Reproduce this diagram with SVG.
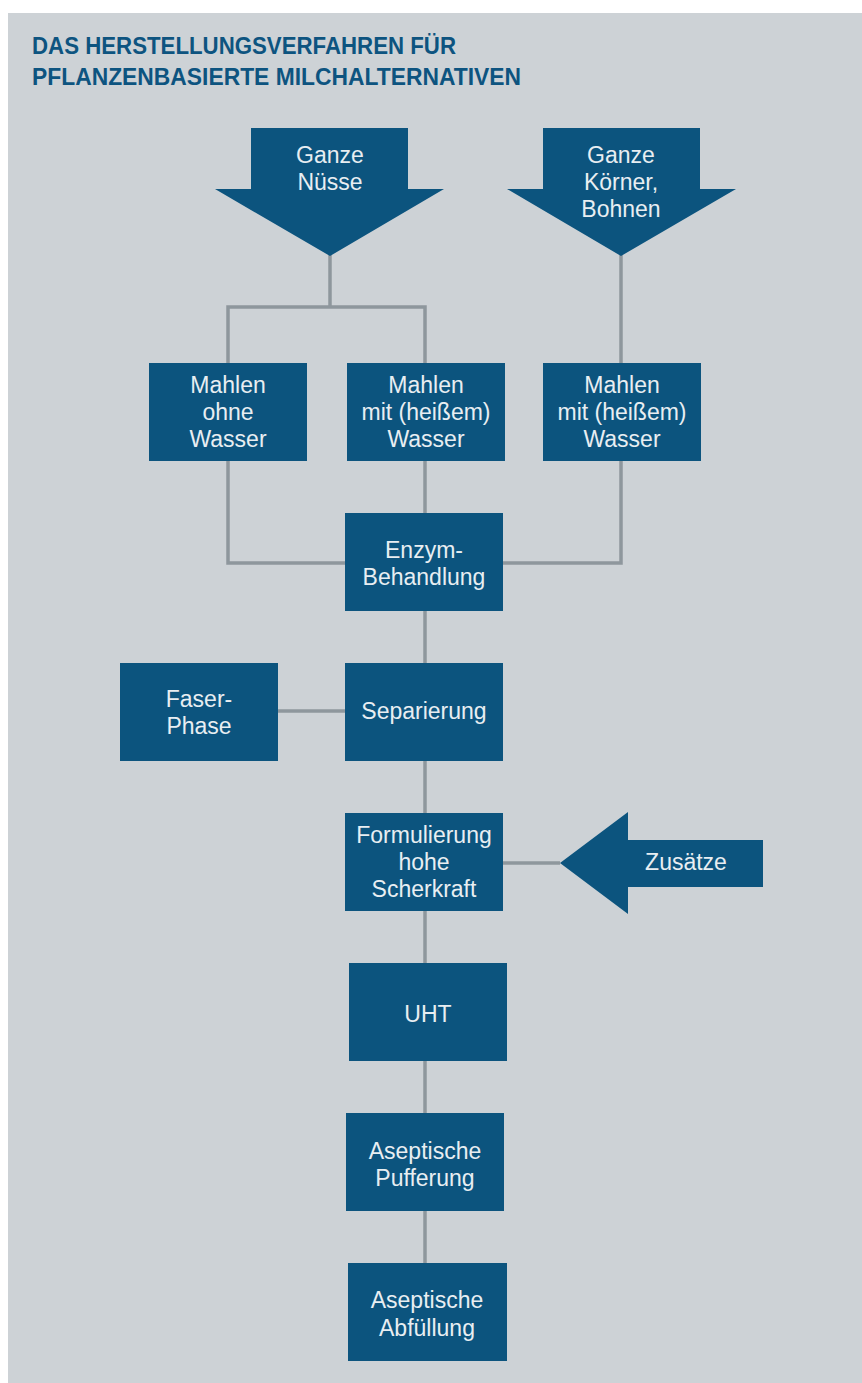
<svg xmlns="http://www.w3.org/2000/svg" width="862" height="1383" viewBox="0 0 862 1383">
<style>
.bg{fill:#ffffff}
.panel{fill:#cdd2d6}
.box{fill:#0c547e}
.t{font-family:"Liberation Sans",Arial,sans-serif;font-size:23px;fill:#e8eef2;text-anchor:middle}
.title{font-family:"Liberation Sans",Arial,sans-serif;font-weight:bold;font-size:23.5px;fill:#0d5480}
.conn{fill:none;stroke:#8e979d;stroke-width:3.5}
</style>
<rect class="bg" x="0" y="0" width="862" height="1383"/>
<rect class="panel" x="8" y="13" width="854" height="1370"/>
<g id="title">
<text class="title" x="32" y="54" textLength="424" lengthAdjust="spacingAndGlyphs">DAS HERSTELLUNGSVERFAHREN FÜR</text>
<text class="title" x="32" y="85" textLength="489" lengthAdjust="spacingAndGlyphs">PFLANZENBASIERTE MILCHALTERNATIVEN</text>
</g>
<g id="connectors">
<polyline class="conn" points="330,255 330,307"/>
<polyline class="conn" points="228,363 228,307 425,307 425,363"/>
<polyline class="conn" points="621,255 621,363"/>
<polyline class="conn" points="228,461 228,563 345,563"/>
<polyline class="conn" points="425,461 425,513"/>
<polyline class="conn" points="621,461 621,563 503,563"/>
<polyline class="conn" points="425,611 425,663"/>
<polyline class="conn" points="278,711 345,711"/>
<polyline class="conn" points="425,761 425,813"/>
<polyline class="conn" points="503,863 560,863"/>
<polyline class="conn" points="425,911 425,963"/>
<polyline class="conn" points="425,1061 425,1113"/>
<polyline class="conn" points="425,1211 425,1263"/>
</g>
<g id="ganze-nuesse">
<polygon class="box" points="251,128 408,128 408,189 444,189 330,256 215,189 251,189"/>
<text class="t" x="330" y="163">Ganze</text>
<text class="t" x="330" y="190">Nüsse</text>
</g>
<g id="ganze-koerner">
<polygon class="box" points="543,128 700,128 700,189 736,189 621,256 507,189 543,189"/>
<text class="t" x="621" y="163">Ganze</text>
<text class="t" x="621" y="190">Körner,</text>
<text class="t" x="621" y="217">Bohnen</text>
</g>
<g id="mahlen-ohne">
<rect class="box" x="149" y="363" width="158" height="98"/>
<text class="t" x="228" y="393">Mahlen</text>
<text class="t" x="228" y="420">ohne</text>
<text class="t" x="228" y="447">Wasser</text>
</g>
<g id="mahlen-mit-1">
<rect class="box" x="347" y="363" width="158" height="98"/>
<text class="t" x="426" y="393">Mahlen</text>
<text class="t" x="426" y="420">mit (heißem)</text>
<text class="t" x="426" y="447">Wasser</text>
</g>
<g id="mahlen-mit-2">
<rect class="box" x="543" y="363" width="158" height="98"/>
<text class="t" x="622" y="393">Mahlen</text>
<text class="t" x="622" y="420">mit (heißem)</text>
<text class="t" x="622" y="447">Wasser</text>
</g>
<g id="enzym">
<rect class="box" x="345" y="513" width="158" height="98"/>
<text class="t" x="424" y="558">Enzym-</text>
<text class="t" x="424" y="585">Behandlung</text>
</g>
<g id="faser">
<rect class="box" x="120" y="663" width="158" height="98"/>
<text class="t" x="199" y="707">Faser-</text>
<text class="t" x="199" y="734">Phase</text>
</g>
<g id="separierung">
<rect class="box" x="345" y="663" width="158" height="98"/>
<text class="t" x="424" y="719">Separierung</text>
</g>
<g id="formulierung">
<rect class="box" x="345" y="813" width="158" height="98"/>
<text class="t" x="424" y="843">Formulierung</text>
<text class="t" x="424" y="870">hohe</text>
<text class="t" x="424" y="897">Scherkraft</text>
</g>
<g id="zusaetze">
<polygon class="box" points="560,863 628,812 628,840 763,840 763,887 628,887 628,914"/>
<text class="t" x="686" y="870">Zusätze</text>
</g>
<g id="uht">
<rect class="box" x="349" y="963" width="158" height="98"/>
<text class="t" x="428" y="1022">UHT</text>
</g>
<g id="pufferung">
<rect class="box" x="346" y="1113" width="158" height="98"/>
<text class="t" x="425" y="1159">Aseptische</text>
<text class="t" x="425" y="1186">Pufferung</text>
</g>
<g id="abfuellung">
<rect class="box" x="348" y="1263" width="159" height="98"/>
<text class="t" x="427" y="1308">Aseptische</text>
<text class="t" x="427" y="1336">Abfüllung</text>
</g>
</svg>
